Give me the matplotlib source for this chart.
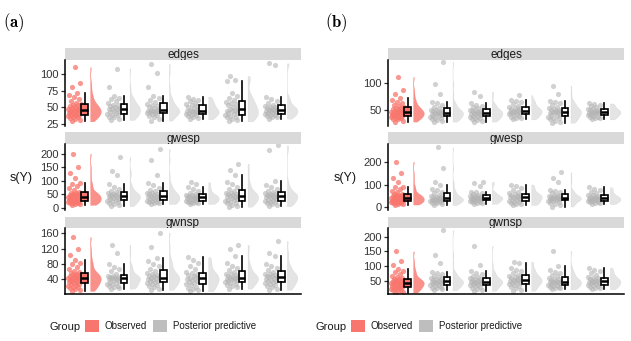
import numpy as np
import matplotlib
matplotlib.use("Agg")
import matplotlib.pyplot as plt
from matplotlib.patches import Patch

plt.rcParams['font.family'] = ['Liberation Sans', 'DejaVu Sans']
plt.rcParams['mathtext.fontset'] = 'cm'

terms = ["edges", "gwesp", "gwnsp"]
groups = ["Observed", "Posterior predictive"]

# observed statistics (same networks in both panels)
obs_edges = [29, 31, 33, 34, 35, 36, 37, 38, 39, 39, 40, 41, 42, 43, 44, 45, 45, 46, 46,
             47, 48, 49, 50, 51, 52, 53, 54, 55, 57, 59, 62, 65, 68, 72, 80, 87, 110]
obs_gwesp = [12, 14, 16, 18, 19, 20, 22, 23, 25, 26, 28, 29, 31, 32, 34, 35, 37, 38, 40, 41,
             43, 44, 46, 47, 49, 50, 52, 53, 55, 57, 60, 65, 72, 80, 88, 91, 110, 128, 149, 199]
obs_gwnsp = [10, 13, 15, 17, 19, 21, 23, 25, 27, 29, 30, 32, 33, 35, 36, 38, 39, 40, 42, 43,
             44, 45, 47, 48, 50, 51, 52, 54, 55, 56, 59, 63, 68, 73, 79, 84, 90, 104, 118, 150]

# posterior predictive statistics, panel (a)
pp_a_edges = [
    [31, 33, 35, 36, 38, 39, 40, 41, 43, 44, 45, 47, 47, 48, 49, 51, 52, 53, 54, 56, 59, 62, 64, 67, 80, 108],
    [30, 33, 35, 37, 38, 40, 41, 42, 43, 44, 44, 45, 45, 46, 48, 49, 51, 52, 53, 55, 58, 61, 64, 67, 80, 102, 115],
    [32, 34, 35, 37, 38, 39, 40, 41, 42, 43, 44, 45, 45, 46, 47, 49, 50, 52, 53, 55, 57, 59, 61, 63, 66],
    [29, 31, 33, 35, 36, 37, 38, 40, 42, 43, 44, 45, 46, 47, 49, 51, 53, 55, 57, 58, 61, 64, 67, 71, 90, 91, 97],
    [33, 35, 36, 37, 38, 39, 40, 41, 42, 43, 44, 45, 46, 46, 47, 48, 49, 50, 51, 52, 54, 57, 60, 63, 66, 113, 116],
]
pp_a_gwesp = [
    [7, 12, 16, 19, 22, 25, 27, 29, 32, 35, 38, 40, 42, 43, 45, 47, 49, 51, 53, 54, 58, 64, 71, 79, 88, 120, 135, 186],
    [15, 17, 19, 21, 23, 25, 27, 29, 32, 35, 37, 40, 42, 43, 45, 48, 51, 53, 55, 57, 62, 68, 75, 83, 91, 120, 178, 217],
    [15, 17, 19, 21, 23, 24, 26, 28, 30, 32, 34, 36, 38, 39, 40, 42, 44, 46, 47, 48, 52, 57, 63, 70, 77, 88, 95],
    [5, 9, 13, 17, 20, 23, 26, 28, 31, 34, 37, 40, 42, 43, 45, 48, 51, 53, 55, 57, 63, 70, 78, 87, 97, 120, 140, 163],
    [7, 11, 15, 18, 21, 24, 26, 28, 31, 34, 37, 40, 42, 43, 45, 47, 49, 51, 53, 54, 58, 63, 69, 76, 84, 100, 212, 230],
]
pp_a_gwnsp = [
    [16, 18, 20, 22, 24, 27, 29, 31, 33, 35, 38, 40, 42, 43, 44, 45, 46, 47, 48, 50, 55, 61, 67, 73, 79, 108, 130],
    [13, 16, 19, 22, 25, 28, 31, 33, 35, 37, 39, 41, 43, 44, 46, 48, 50, 52, 54, 56, 62, 68, 74, 81, 88, 97, 125, 162],
    [9, 12, 15, 18, 21, 25, 29, 31, 33, 36, 38, 41, 43, 44, 46, 49, 52, 54, 57, 59, 66, 74, 82, 90, 98],
    [16, 19, 22, 25, 28, 30, 33, 35, 37, 38, 40, 42, 43, 44, 46, 47, 49, 51, 53, 55, 60, 65, 70, 76, 82, 100, 120, 130],
    [13, 16, 19, 22, 25, 28, 31, 33, 35, 37, 39, 42, 45, 46, 47, 48, 50, 52, 53, 55, 60, 65, 70, 75, 79, 100, 110, 140],
]

# posterior predictive statistics, panel (b)
pp_b_edges = [
    [29, 31, 32, 34, 35, 36, 38, 39, 40, 41, 42, 43, 44, 45, 46, 47, 48, 49, 50, 50, 53, 56, 59, 62, 65, 80, 97, 137],
    [29, 31, 32, 34, 35, 36, 38, 39, 40, 41, 42, 43, 44, 45, 46, 47, 48, 49, 50, 50, 53, 55, 58, 60, 62, 75, 83],
    [33, 35, 36, 38, 39, 41, 42, 43, 44, 45, 46, 47, 48, 49, 50, 51, 52, 53, 54, 55, 58, 61, 64, 66, 68, 77],
    [27, 29, 31, 33, 35, 36, 38, 39, 41, 42, 44, 45, 46, 47, 48, 49, 50, 51, 52, 53, 56, 59, 62, 64, 66, 80, 94],
    [33, 35, 36, 37, 38, 40, 41, 42, 43, 44, 45, 45, 46, 47, 48, 49, 50, 51, 52, 52, 55, 57, 59, 61, 62],
]
pp_b_gwesp = [
    [10, 14, 17, 20, 23, 25, 28, 29, 30, 31, 33, 34, 36, 37, 39, 41, 43, 45, 47, 50, 55, 61, 67, 74, 80, 100, 110, 171, 263],
    [15, 17, 19, 21, 23, 26, 29, 31, 33, 35, 36, 38, 39, 40, 42, 44, 46, 47, 49, 50, 53, 57, 61, 65, 68, 95, 105, 112],
    [10, 13, 16, 19, 22, 25, 28, 31, 34, 37, 40, 43, 46, 47, 49, 51, 53, 56, 58, 61, 68, 76, 84, 92, 100],
    [3, 8, 13, 18, 22, 26, 29, 31, 33, 35, 37, 38, 39, 40, 42, 44, 46, 48, 50, 51, 56, 61, 66, 71, 76, 110, 130, 153],
    [14, 17, 19, 21, 23, 26, 28, 30, 32, 34, 36, 38, 39, 40, 42, 45, 47, 50, 52, 54, 61, 68, 75, 82, 88],
]
pp_b_gwnsp = [
    [18, 21, 24, 27, 30, 33, 35, 37, 39, 41, 43, 45, 46, 47, 49, 51, 53, 55, 56, 58, 63, 68, 72, 77, 81, 110, 137, 222],
    [16, 19, 22, 26, 29, 32, 35, 37, 39, 41, 43, 45, 46, 47, 49, 51, 53, 55, 56, 58, 63, 68, 73, 78, 83, 105, 169],
    [16, 20, 24, 28, 32, 36, 39, 41, 43, 45, 48, 50, 52, 53, 55, 57, 60, 62, 64, 66, 71, 77, 82, 87, 92, 110, 115],
    [21, 24, 26, 28, 30, 32, 35, 37, 39, 41, 43, 45, 46, 47, 49, 51, 53, 55, 57, 60, 65, 70, 75, 80, 86, 100, 152],
    [21, 24, 27, 30, 32, 34, 35, 38, 41, 43, 45, 47, 49, 50, 52, 54, 56, 59, 61, 64, 70, 76, 82, 88, 95],
]

yticks_a = [[25, 50, 75, 100], [0, 50, 100, 150, 200], [40, 80, 120, 160]]
yticks_b = [[50, 100], [0, 100, 200], [50, 100, 150, 200]]
ylims_a = [(22, 121), (-7, 235), (2, 174)]
ylims_b = [(21, 141), (-12, 278), (5, 230)]

RED = '#F8766D'
GREY = '#B3B3B3'
W, H = 631, 341


def rect(x0, y0, x1, y1):
    return [x0 / W, 1 - y1 / H, (x1 - x0) / W, (y1 - y0) / H]


def kde(v, grid):
    v = np.asarray(v, float)
    sd = v.std(ddof=1)
    q75, q25 = np.percentile(v, [75, 25])
    bw = 0.9 * min(sd, (q75 - q25) / 1.34) * len(v) ** -0.2
    z = (grid[:, None] - v[None, :]) / bw
    return np.exp(-0.5 * z ** 2).sum(1)


def raincloud(ax, series):
    for i, vals in enumerate(series):
        x = i + 1
        col = RED if i == 0 else GREY
        vals = np.asarray(vals, float)
        n = len(vals)
        # jittered points to the left of the box
        u = (np.arange(n) * 0.618034 + 0.31) % 1
        ax.scatter(x - 0.43 + u * 0.34, vals, s=14, color=col, alpha=0.75 if i == 0 else 0.6,
                   lw=0, zorder=1)
        # half violin to the right
        grid = np.linspace(vals.min(), vals.max(), 200)
        d = kde(vals, grid)
        w = d / d.max() * 0.27
        ax.fill_betweenx(grid, x + 0.14, x + 0.14 + w, facecolor=col, edgecolor=col,
                         alpha=0.8 if i == 0 else 0.35, lw=0.25, zorder=1)
        ax.boxplot(vals, positions=[x], widths=0.17, showfliers=False, showcaps=False,
                   patch_artist=True,
                   boxprops=dict(facecolor=RED if i == 0 else 'white', edgecolor='black', lw=1.2),
                   medianprops=dict(color='black', lw=1.8),
                   whiskerprops=dict(color='black', lw=1.2), zorder=3)


fig = plt.figure(figsize=(W / 100, H / 100), dpi=100)

panels = [
    ("a", 65, 301, 21, [obs_edges] + pp_a_edges, [obs_gwesp] + pp_a_gwesp,
     [obs_gwnsp] + pp_a_gwnsp, yticks_a, ylims_a),
    ("b", 388, 624, 345, [obs_edges] + pp_b_edges, [obs_gwesp] + pp_b_gwesp,
     [obs_gwnsp] + pp_b_gwnsp, yticks_b, ylims_b),
]
strips = [(48, 60), (132, 144), (217, 228)]
plots = [(60, 126), (144, 210), (228, 294)]

for tag, x0, x1, ylab_x, s_edges, s_gwesp, s_gwnsp, yticks, ylims in panels:
    for k, series in enumerate([s_edges, s_gwesp, s_gwnsp]):
        sax = fig.add_axes(rect(x0, strips[k][0], x1, strips[k][1]))
        sax.set_facecolor('#D9D9D9')
        sax.set_xticks([])
        sax.set_yticks([])
        for sp in sax.spines.values():
            sp.set_visible(False)
        sax.text(0.5, 0.45, terms[k], ha='center', va='center', fontsize=8.5, color='#1A1A1A',
                 transform=sax.transAxes)

        ax = fig.add_axes(rect(x0, plots[k][0], x1, plots[k][1]))
        raincloud(ax, series)
        ax.set_xlim(0.5, 6.5)
        ax.set_ylim(*ylims[k])
        ax.set_yticks(yticks[k])
        ax.set_xticks([])
        ax.tick_params(axis='y', length=3, width=0.9, color='#333333', labelsize=8,
                       labelcolor='#333333', pad=1.5)
        for sp in ['top', 'right']:
            ax.spines[sp].set_visible(False)
        ax.spines['left'].set_linewidth(1.1)
        if k < 2:
            ax.spines['bottom'].set_visible(False)
        else:
            ax.spines['bottom'].set_linewidth(1.1)

    fig.text(ylab_x / W, 1 - 178 / H, 's(Y)', fontsize=9, ha='center', va='center',
             color='#1A1A1A')
    fig.text((3 if tag == "a" else 325) / W, 1 - 23 / H, r'$\mathbf{(%s)}$' % tag, fontsize=12,
             ha='left', va='center')

    gx = 50 if tag == "a" else 316
    fig.text(gx / W, 1 - 327 / H, 'Group', fontsize=8, ha='left', va='center', color='#1A1A1A')
    handles = [Patch(facecolor=RED, edgecolor='none', label=groups[0]),
               Patch(facecolor=GREY, alpha=0.85, edgecolor='none', label=groups[1])]
    fig.legend(handles=handles, loc='center left', bbox_to_anchor=((gx + 35) / W, 1 - 326 / H),
               ncol=2, frameon=False, fontsize=7, handlelength=1.45, handleheight=1.65,
               handletextpad=0.6, columnspacing=0.6, borderpad=0, borderaxespad=0,
               labelcolor='#1A1A1A')

fig.savefig("out.png", dpi=100)
